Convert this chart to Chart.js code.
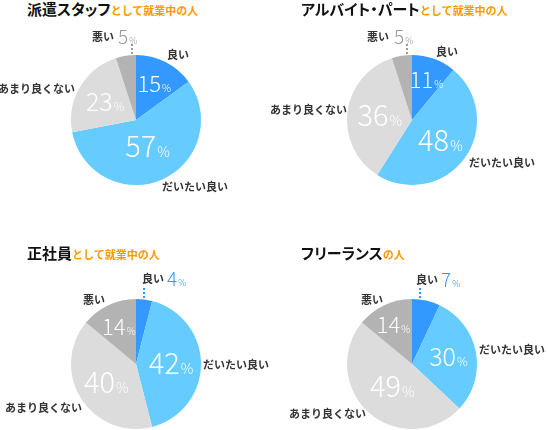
<!DOCTYPE html>
<html>
<head>
<meta charset="utf-8">
<script src="https://cdn.jsdelivr.net/npm/chart.js@4.4.0/dist/chart.umd.min.js"></script>
<style>
  body { margin: 0; background: #fff; font-family: "Noto Sans CJK JP", sans-serif; }
  #wrap { position: relative; width: 548px; height: 430px; }
  #wrap canvas { position: absolute; left: 0; top: 0; }
  .title { position: absolute; white-space: nowrap; line-height: 20px; }
  .title .main { font-size: 15px; font-weight: bold; color: #111; font-feature-settings: "palt"; }
  .title .sub { font-size: 11px; font-weight: bold; color: #ff9900; }
</style>
</head>
<body>
<div id="wrap"></div>
<script>
// categories and values (percent)
const categories = ['良い', 'だいたい良い', 'あまり良くない', '悪い'];
const haken = [15, 57, 23, 5];
const arubaito = [11, 48, 36, 5];
const seishain = [4, 42, 40, 14];
const freelance = [7, 30, 49, 14];

const titleMain = ['派遣スタッフ', 'アルバイト・パート', '正社員', 'フリーランス'];
const titleSub = ['として就業中の人', 'として就業中の人', 'として就業中の人', 'の人'];
const seriesList = [haken, arubaito, seishain, freelance];

const colors = ['#3399ff', '#66ccff', '#dcdcdc', '#b3b3b3'];

// layout of each pie: centre / radius in page px, where the text goes
const panels = [
	{
		titleX: 27, titleY: -2, cx: 136, cy: 120, r: 65,
		inner: [0.62, 0.45, 0.55, 0],
		outer: [
			{ dx: 31, dy: -65 },
			{ dx: 26, dy: 67 },
			{ dx: -61, dy: -31, align: 'right' },
			{ dx: -44, dy: -83, pct: -18, line: -4, pctColor: '#999999' },
		],
	},
	{
		titleX: 301, titleY: -2, cx: 412, cy: 120, r: 65,
		inner: [0.66, 0.54, 0.5, 0],
		outer: [
			{ dx: 24, dy: -68 },
			{ dx: 57, dy: 43 },
			{ dx: -65, dy: -10, align: 'right' },
			{ dx: -45, dy: -83, pct: -18, line: -5, pctColor: '#999999' },
		],
	},
	{
		titleX: 27, titleY: 242, cx: 136, cy: 364, r: 65,
		inner: [0, 0.54, 0.54, 0.62],
		outer: [
			{ dx: 6, dy: -85, pct: 31, line: 8, pctColor: '#3399ff' },
			{ dx: 67, dy: 1 },
			{ dx: -54, dy: 44, align: 'right' },
			{ dx: -53, dy: -64 },
		],
	},
	{
		titleX: 301, titleY: 242, cx: 412, cy: 364, r: 65,
		inner: [0, 0.57, 0.46, 0.67],
		outer: [
			{ dx: 4, dy: -84, pct: 29, line: 8, pctColor: '#3399ff' },
			{ dx: 67, dy: -14 },
			{ dx: -46, dy: 50, align: 'right' },
			{ dx: -51, dy: -64 },
		],
	},
];

const W = 548, H = 430;
const numFont = '"Noto Sans CJK JP", "Noto Sans", sans-serif';

function drawPct(ctx, value, x, y, size, color, align) {
	const small = Math.round(size * 0.47);
	ctx.font = '300 ' + size + 'px ' + numFont;
	const wNum = ctx.measureText(String(value)).width;
	ctx.font = '300 ' + small + 'px ' + numFont;
	const wPct = ctx.measureText('%').width;
	const total = wNum + 1 + wPct;
	let x0 = align === 'left' ? x : x - total / 2;
	const base = y + size * 0.36;
	ctx.fillStyle = color;
	ctx.textAlign = 'left';
	ctx.textBaseline = 'alphabetic';
	ctx.font = '300 ' + size + 'px ' + numFont;
	ctx.fillText(String(value), x0, base);
	ctx.font = '300 ' + small + 'px ' + numFont;
	ctx.fillText('%', x0 + wNum + 1, base);
}

const sliceLabels = {
	id: 'sliceLabels',
	afterDraw(chart, args, opts) {
		const ctx = chart.ctx;
		const meta = chart.getDatasetMeta(0);
		const vals = chart.data.datasets[0].data;
		const L = opts.layout;
		meta.data.forEach((arc, i) => {
			const p = arc.getProps(['x', 'y', 'startAngle', 'endAngle', 'outerRadius'], true);
			const mid = (p.startAngle + p.endAngle) / 2;
			const o = L.outer[i];
			const v = vals[i];
			ctx.save();
			ctx.fillStyle = '#333333';
			ctx.font = 'bold 11px "Noto Sans CJK JP", sans-serif';
			ctx.textBaseline = 'middle';
			ctx.textAlign = o.align || 'left';
			ctx.fillText(chart.data.labels[i], p.x + o.dx, p.y + o.dy);
			if (o.pct !== undefined) {
				drawPct(ctx, v, p.x + o.pct, p.y + o.dy, 19, o.pctColor, 'left');
				// dotted leader down to the slice
				ctx.strokeStyle = o.pctColor;
				ctx.lineWidth = 2;
				ctx.setLineDash([2, 2]);
				ctx.beginPath();
				ctx.moveTo(p.x + o.line, p.y - p.outerRadius - 11);
				ctx.lineTo(p.x + o.line, p.y - p.outerRadius);
				ctx.stroke();
			} else {
				const rr = p.outerRadius * L.inner[i];
				const size = v >= 35 ? 29 : v >= 20 ? 25 : 22;
				drawPct(ctx, v, p.x + Math.cos(mid) * rr, p.y + Math.sin(mid) * rr, size, '#ffffff', 'center');
			}
			ctx.restore();
		});
	},
};

const wrap = document.getElementById('wrap');
panels.forEach((pl, k) => {
	const title = document.createElement('div');
	title.className = 'title';
	title.style.left = pl.titleX + 'px';
	title.style.top = pl.titleY + 'px';
	title.innerHTML = '<span class="main">' + titleMain[k] + '</span><span class="sub">' + titleSub[k] + '</span>';
	wrap.appendChild(title);

	const canvas = document.createElement('canvas');
	canvas.width = W;
	canvas.height = H;
	wrap.appendChild(canvas);

	new Chart(canvas.getContext('2d'), {
		type: 'pie',
		data: {
			labels: categories,
			datasets: [
				{
					data: seriesList[k],
					backgroundColor: colors,
					borderWidth: 0,
				},
			],
		},
		options: {
			responsive: false,
			animation: false,
			layout: {
				padding: {
					left: pl.cx - pl.r,
					right: W - pl.cx - pl.r,
					top: pl.cy - pl.r,
					bottom: H - pl.cy - pl.r,
				},
			},
			plugins: {
				legend: { display: false },
				tooltip: { enabled: false },
				sliceLabels: { layout: pl },
			},
		},
		plugins: [sliceLabels],
	});
});
</script>
</body>
</html>
